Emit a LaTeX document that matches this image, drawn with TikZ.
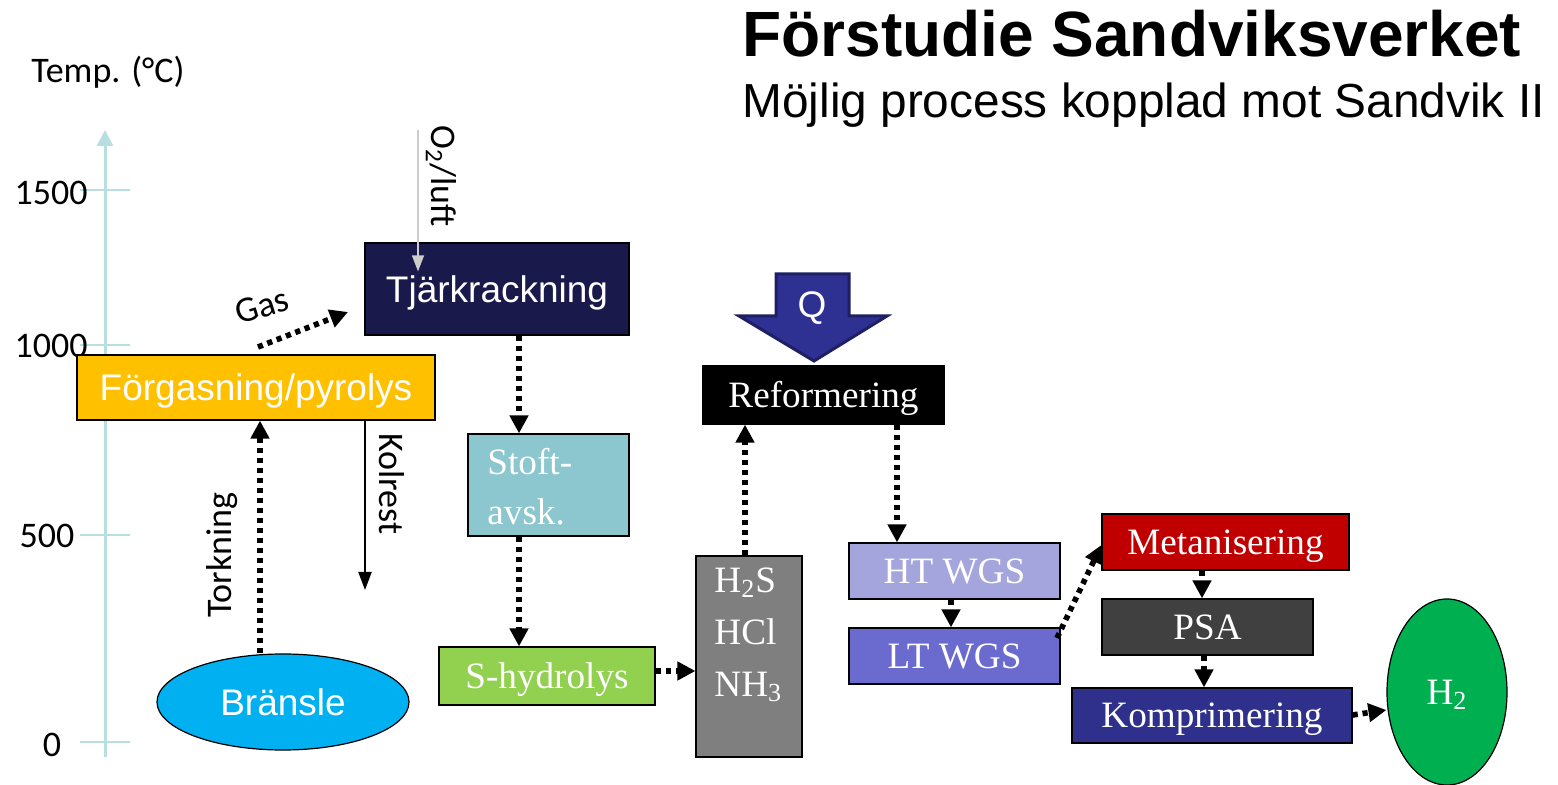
\documentclass[tikz,border=0pt]{standalone}
\usepackage{fontspec}
\setmainfont{Liberation Serif}
\newfontfamily\arialf{Liberation Sans}
\newfontfamily\calib{Carlito}
\usetikzlibrary{arrows.meta,shapes.geometric}
\definecolor{axisblue}{RGB}{183,222,225}
\definecolor{forgc}{RGB}{255,192,0}
\definecolor{tjarc}{RGB}{25,25,75}
\definecolor{stoftc}{RGB}{140,198,206}
\definecolor{shydc}{RGB}{146,208,80}
\definecolor{gasc}{RGB}{127,127,127}
\definecolor{htc}{RGB}{165,165,222}
\definecolor{ltc}{RGB}{107,107,207}
\definecolor{metc}{RGB}{192,0,0}
\definecolor{psac}{RGB}{64,64,64}
\definecolor{kompc}{RGB}{46,48,140}
\definecolor{branc}{RGB}{0,176,240}
\definecolor{htwoc}{RGB}{0,176,80}
\definecolor{qfill}{RGB}{46,49,146}
\definecolor{qedge}{RGB}{30,31,100}
\tikzset{
  procbox/.style={draw=black, line width=0.6pt, inner sep=0pt, text=white,
    font=\fontsize{18.6}{22}\selectfont, text height=12.3pt, text depth=0pt},
  sansbox/.style={procbox, font=\arialf\fontsize{18.5}{22}\selectfont, text height=13.2pt},
  flow/.style={line width=2.8pt, dash pattern=on 2.6pt off 2.4pt,
    -{Triangle[width=9pt,length=9pt]}},
  lbl/.style={font=\calib\fontsize{18}{22}\selectfont, inner sep=0pt},
  tick/.style={draw=axisblue, line width=1pt},
}
\begin{document}
\begin{tikzpicture}[x=0.5pt,y=-0.5pt]
\useasboundingbox (0,0) rectangle (1558,785);
% title
\node[anchor=base west, inner sep=0pt, font=\arialf\bfseries\fontsize{32}{36}\selectfont] (title) at (742,57) {Förstudie Sandviksverket};
\node[anchor=base west, inner sep=0pt, font=\arialf\fontsize{23.9}{28}\selectfont] (subtitle) at (742,118) {Möjlig process kopplad mot Sandvik II};
% axis
\coordinate (axbot) at (105,757);
\coordinate (axtop) at (105,130);
\draw[draw=axisblue, line width=1.5pt, -{Triangle[width=8pt,length=8pt]}] (axbot) -- (axtop);
\foreach \yy in {190,345,535,742} \draw[tick] (80,\yy) -- (130,\yy);
\node[lbl] (temp) at (108,72) {Temp. (°C)};
\node[lbl] (t1500) at (51,193) {1500};
\node[lbl] (t1000) at (51,346) {1000};
\node[lbl] (t500) at (47,536) {500};
\node[lbl] (t0) at (52,745) {0};
% boxes
\node[sansbox, fill=forgc, minimum width=179pt, minimum height=32.5pt] (forg) at (256,387.5) {Förgasning/pyrolys};
\node[sansbox, fill=tjarc, minimum width=132pt, minimum height=46pt] (tjar) at (497,289) {Tjärkrackning};
\node[procbox, fill=stoftc, minimum width=80.5pt, minimum height=51pt] (stoft) at (548.5,485) {};
\node[anchor=west, inner sep=0pt, text=white, align=left, font=\fontsize{18.6}{25}\selectfont] (stofttext) at (487,487) {Stoft-\\avsk.};
\node[procbox, fill=shydc, minimum width=108pt, minimum height=29pt] (shyd) at (547,676) {S-hydrolys};
\node[procbox, fill=gasc, minimum width=53pt, minimum height=100.5pt] (gas) at (749,656.5) {};
\node[anchor=north west, inner sep=0pt, text=white, align=left, font=\fontsize{18.6}{26}\selectfont] (gastext) at (714,567) {H\textsubscript{2}S\\HCl\\NH\textsubscript{3}};
\node[procbox, fill=black, minimum width=120.5pt, minimum height=29pt] (reform) at (823.5,395) {Reformering};
\node[procbox, fill=htc, minimum width=105.5pt, minimum height=28pt] (ht) at (954.5,571) {HT WGS};
\node[procbox, fill=ltc, minimum width=105.5pt, minimum height=28pt] (lt) at (954.5,656) {LT WGS};
\node[procbox, fill=metc, minimum width=123.5pt, minimum height=28pt] (met) at (1225.5,542) {Metanisering};
\node[procbox, fill=psac, minimum width=105.5pt, minimum height=28pt] (psa) at (1207.5,627) {PSA};
\node[procbox, fill=kompc, minimum width=140pt, minimum height=27.5pt] (komp) at (1212,715.5) {Komprimering};
\node[sansbox, ellipse, fill=branc, minimum width=126pt, minimum height=48pt] (bran) at (283,702) {Bränsle};
\node[procbox, ellipse, fill=htwoc, minimum width=60pt, minimum height=93pt] (htwo) at (1447,692) {H\textsubscript{2}};
% Q arrow
\draw[fill=qfill, draw=qedge, line width=1.5pt, line join=miter] (776,274) -- (849,274) -- (849,316) -- (887,316) -- (814,361) -- (739,316) -- (776,316) -- cycle;
\node[font=\arialf\fontsize{18.5}{22}\selectfont, text=white, inner sep=0pt] (q) at (812,308) {Q};
% labels
\node[lbl, rotate=-90] (otwo) at (441,176) {O\textsubscript{2}/luft};
\node[lbl, rotate=17] (gaslbl) at (262,306) {Gas};
\node[lbl, rotate=90] (tork) at (222,555) {Torkning};
\node[lbl, rotate=-90] (kol) at (392,484) {Kolrest};
% connectors
\coordinate (o2start) at (418,130);
\draw[draw=gray!40, line width=0.7pt, -{Triangle[width=6pt,length=8pt]}] (o2start) -- (tjar.north -| o2start) -- ++(0,29);
\coordinate (gasstart) at (258,347);
\coordinate (gasend) at (348,312);
\draw[flow] (gasstart) -- (gasend);
\draw[flow] (bran.north -| 260,0) -- (forg.south -| 260,0);
\coordinate (kolend) at (365,590);
\draw[line width=1pt, -{Triangle[width=6.5pt,length=9pt]}] (forg.south -| kolend) -- (kolend);
\draw[flow] (tjar.south -| 519,0) -- (stoft.north -| 519,0);
\draw[flow] (stoft.south -| 519,0) -- (shyd.north -| 519,0);
\draw[flow] (shyd.east |- 0,671) -- (gas.west |- 0,671);
\draw[flow] (gas.north -| 745,0) -- (reform.south -| 745,0);
\draw[flow] (reform.south -| 897,0) -- (ht.north -| 897,0);
\draw[flow] (ht.south -| 951,0) -- (lt.north -| 951,0);
\draw[flow] (1057,638) -- (met.west |- 0,545);
\draw[flow] (met.south -| 1202,0) -- (psa.north -| 1202,0);
\draw[flow] (psa.south -| 1204,0) -- (komp.north -| 1204,0);
\draw[flow] (komp.east |- 0,715) -- (htwo.west |- 0,710);
\end{tikzpicture}
\end{document}
